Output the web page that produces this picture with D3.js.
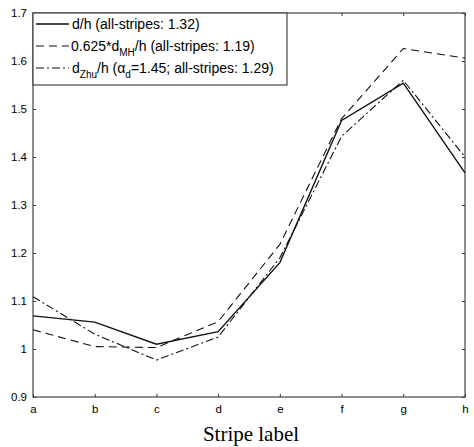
<!DOCTYPE html>
<html><head><meta charset="utf-8">
<script src="https://cdn.jsdelivr.net/npm/d3@7"></script>
<style>body{margin:0;background:#fff}svg{display:block}</style>
</head><body>
<svg id="c" width="474" height="447"></svg>
<script>
const categories = ["a","b","c","d","e","f","g","h"];
const dOverH = [1.069, 1.056, 1.010, 1.036, 1.180, 1.476, 1.554, 1.367];
const dMHOverH = [1.040, 1.005, 1.003, 1.057, 1.218, 1.480, 1.626, 1.606];
const dZhuOverH = [1.109, 1.031, 0.977, 1.025, 1.190, 1.443, 1.560, 1.400];
const yTicks = [0.9, 1.0, 1.1, 1.2, 1.3, 1.4, 1.5, 1.6, 1.7];

const svg = d3.select("#c");
const L = 33, R = 465, T = 13, B = 397;
const x = d3.scalePoint().domain(categories).range([L, R]);
const y = d3.scaleLinear().domain([0.9, 1.7]).range([B, T]);
const font = "Liberation Sans, Arial, sans-serif";

const g = svg.append("g");
g.append("g").attr("transform", `translate(${L},0)`)
  .call(d3.axisLeft(y).tickValues(yTicks).tickSize(-3).tickPadding(6).tickFormat(d => d3.format("")(+d.toFixed(1))))
  .call(s => s.select(".domain").remove())
  .call(s => s.selectAll("text").attr("font-family", font).attr("font-size", 11.5).attr("fill", "#000"))
  .call(s => s.selectAll("line").attr("stroke", "#333"));
g.append("g").attr("transform", `translate(${R},0)`)
  .call(d3.axisRight(y).tickValues(yTicks).tickSize(-3).tickFormat(""))
  .call(s => s.select(".domain").remove())
  .call(s => s.selectAll("line").attr("stroke", "#333"));
g.append("g").attr("transform", `translate(0,${B})`)
  .call(d3.axisBottom(x).tickSize(-3).tickPadding(8))
  .call(s => s.select(".domain").remove())
  .call(s => s.selectAll("text").attr("font-family", font).attr("font-size", 11.5).attr("fill", "#000"))
  .call(s => s.selectAll("line").attr("stroke", "#333"));
g.append("g").attr("transform", `translate(0,${T})`)
  .call(d3.axisTop(x).tickSize(-3).tickFormat(""))
  .call(s => s.select(".domain").remove())
  .call(s => s.selectAll("line").attr("stroke", "#333"));

svg.append("rect").attr("x", L).attr("y", T).attr("width", R - L).attr("height", B - T)
  .attr("fill", "none").attr("stroke", "#444").attr("stroke-width", 1.2);

const line = d3.line().x((d, i) => x(categories[i])).y(d => y(d));
const series = [
  {vals: dOverH, dash: null, w: 1.4},
  {vals: dMHOverH, dash: "8,5", w: 1.1},
  {vals: dZhuOverH, dash: "8,3,2,3", w: 1.1}
];
series.forEach(s => {
  svg.append("path").attr("d", line(s.vals)).attr("fill", "none")
    .attr("stroke", "#111").attr("stroke-width", s.w)
    .attr("stroke-dasharray", s.dash);
});

// legend
const lg = svg.append("g");
lg.append("rect").attr("x", L).attr("y", T).attr("width", 254).attr("height", 72)
  .attr("fill", "#fff").attr("stroke", "#333").attr("stroke-width", 1.1);
const ly = [24, 46, 68];
series.forEach((s, i) => {
  lg.append("line").attr("x1", 36).attr("x2", 69).attr("y1", ly[i]).attr("y2", ly[i])
    .attr("stroke", "#111").attr("stroke-width", s.w).attr("stroke-dasharray", s.dash);
});
const fs = 14;
const t0 = lg.append("text").attr("x", 72).attr("y", ly[0] + 5).attr("font-family", font).attr("font-size", fs);
t0.text("d/h (all-stripes: 1.32)");
const t1 = lg.append("text").attr("x", 71).attr("y", ly[1] + 5).attr("font-family", font).attr("font-size", fs);
t1.append("tspan").text("0.625*d");
t1.append("tspan").attr("dy", 5).attr("font-size", 10).text("MH");
t1.append("tspan").attr("dy", -5).text("/h (all-stripes: 1.19)");
const t2 = lg.append("text").attr("x", 72).attr("y", ly[2] + 5).attr("font-family", font).attr("font-size", fs);
t2.append("tspan").text("d");
t2.append("tspan").attr("dy", 5).attr("font-size", 10).text("Zhu");
t2.append("tspan").attr("dy", -5).text("/h (\u03b1");
t2.append("tspan").attr("dy", 5).attr("font-size", 10).text("d");
t2.append("tspan").attr("dy", -5).text("=1.45; all-stripes: 1.29)");

svg.append("text").attr("x", 251).attr("y", 441).attr("text-anchor", "middle")
  .attr("font-family", "Liberation Serif, Times New Roman, serif").attr("font-size", 21)
  .text("Stripe label");
</script>
</body></html>
